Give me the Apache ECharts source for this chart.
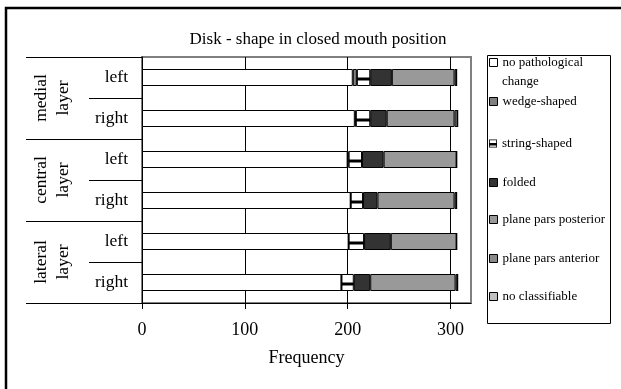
<!DOCTYPE html>
<html><head><meta charset="utf-8">
<script src="https://cdn.jsdelivr.net/npm/echarts@6/dist/echarts.min.js"></script>
<style>html,body{margin:0;padding:0;background:#fff}#c{width:621px;height:389px}</style>
</head><body><div id="c"></div>
<script>
// ---- data ----
const title = 'Disk - shape in closed mouth position';
const layers = ['medial\nlayer', 'central\nlayer', 'lateral\nlayer'];
const sides = ['left', 'right'];
const categories = ['medial-left', 'medial-right', 'central-left', 'central-right', 'lateral-left', 'lateral-right'];
const seriesNames = ['no pathological change', 'wedge-shaped', 'string-shaped', 'folded', 'plane pars posterior', 'plane pars anterior', 'no classifiable'];
const noPathological = [205, 207, 200, 203, 201, 194];
const wedgeShaped    = [4, 1, 1, 0, 0, 0];
const stringShaped   = [13, 14, 13, 12, 15, 12];
const folded         = [21, 16, 21, 14, 26, 16];
const parsPosterior  = [61, 66, 71, 75, 64, 83];
const parsAnterior   = [2, 3, 0, 2, 0, 2];
const noClassifiable = [0, 0, 0, 0, 0, 0];
const xTicks = [0, 100, 200, 300];
const xMax = 320;
const xName = 'Frequency';

// ---- styling ----
const FONT = '"Liberation Serif", "Times New Roman", serif';
const colors = ['#ffffff', '#808080', '#ffffff', '#333333', '#999999', '#8a8a8a', '#c0c0c0'];
const values = [noPathological, wedgeShaped, stringShaped, folded, parsPosterior, parsAnterior, noClassifiable];
const legendCenters = [64, 103, 145, 184, 221, 260, 298];

const series = seriesNames.map((n, i) => ({
  name: n, type: 'bar', stack: 'total', barWidth: 17,
  data: values[i],
  itemStyle: { color: colors[i], borderColor: '#000', borderWidth: 1 },
  xAxisIndex: 0, yAxisIndex: 0
}));
// string-shaped inner black band
const stringData = categories.map((c, k) => {
  const s = noPathological[k] + wedgeShaped[k];
  return [s, s + stringShaped[k], k];
});
series.push({
  name: 'string-band', type: 'custom', xAxisIndex: 0, yAxisIndex: 0,
  data: stringData, encode: { x: [0, 1], y: 2 }, z: 3,
  renderItem: function (params, api) {
    const p0 = api.coord([api.value(0), api.value(2)]);
    const p1 = api.coord([api.value(1), api.value(2)]);
    return { type: 'rect', shape: { x: p0[0], y: p0[1], width: p1[0] - p0[0], height: 3 }, style: { fill: '#000' } };
  }
});

const stringIcon = 'path://M0,0H10V10H0Z M1,1V9H9V1Z M1,4.5H9V7.5H1Z';
const legends = seriesNames.map((n, i) => ({
  data: [i === 2 ? { name: n, icon: stringIcon, itemStyle: { color: '#000', borderWidth: 0 } } : { name: n }],
  left: 489, top: legendCenters[i] - 8, orient: 'vertical', padding: 0,
  icon: 'rect', itemWidth: 8, itemHeight: 8, itemGap: 0,
  itemStyle: { borderColor: '#000', borderWidth: 1 },
  selectedMode: false,
  formatter: i === 0 ? (() => 'no pathological') : undefined,
  textStyle: { fontFamily: FONT, fontSize: 13, color: '#000' }
}));

const chart = echarts.init(document.getElementById('c'), null, { renderer: 'canvas' });
chart.setOption({
  animation: false,
  backgroundColor: '#fff',
  title: { text: title, left: 313, top: 26, textAlign: 'center',
    textStyle: { fontFamily: FONT, fontSize: 17, fontWeight: 'normal', color: '#000' } },
  legend: legends,
  grid: { left: 142, right: 150, top: 57, bottom: 86, show: true, borderColor: '#808080', borderWidth: 2, backgroundColor: 'transparent' },
  xAxis: {
    type: 'value', min: 0, max: xMax, interval: 100,
    name: xName, nameLocation: 'middle', nameGap: 46,
    nameTextStyle: { fontFamily: FONT, fontSize: 18, color: '#000' },
    axisLine: { show: true, lineStyle: { color: '#000', width: 1 } },
    axisTick: { show: true, length: 6, lineStyle: { color: '#000' }, customValues: xTicks },
    axisLabel: { customValues: xTicks, margin: 18, fontFamily: FONT, fontSize: 18, color: '#000' },
    splitLine: { show: true, lineStyle: { color: '#000', width: 1 } }
  },
  yAxis: [
    { type: 'category', data: categories, inverse: true, position: 'left',
      axisLine: { show: true, lineStyle: { color: '#000', width: 1 } },
      axisTick: { show: true, length: 53, lineStyle: { color: '#000' } },
      axisLabel: { interval: 0, margin: 14, fontFamily: FONT, fontSize: 17.5, color: '#000',
        formatter: (v, idx) => sides[idx % 2] },
      splitLine: { show: false } },
    { type: 'category', data: layers, inverse: true, position: 'left', gridIndex: 0,
      axisLine: { show: false },
      axisTick: { show: true, length: 116, lineStyle: { color: '#000' } },
      axisLabel: { interval: 0, rotate: 90, margin: 68, fontFamily: FONT, fontSize: 17.5, lineHeight: 22, color: '#000' },
      splitLine: { show: false } }
  ],
  series: series,
  graphic: [
    { type: 'rect', shape: { x: 6, y: 8, width: 640, height: 400 }, style: { fill: 'none', stroke: '#000', lineWidth: 2.5 }, z: 100 },
    { type: 'rect', shape: { x: 487.5, y: 55.5, width: 123, height: 268 }, style: { fill: 'none', stroke: '#000', lineWidth: 1 }, z: 100 },
    { type: 'text', left: 502, top: 75, style: { text: 'change', font: '13px ' + FONT, fill: '#000' }, z: 100 }
  ]
});
</script></body></html>
